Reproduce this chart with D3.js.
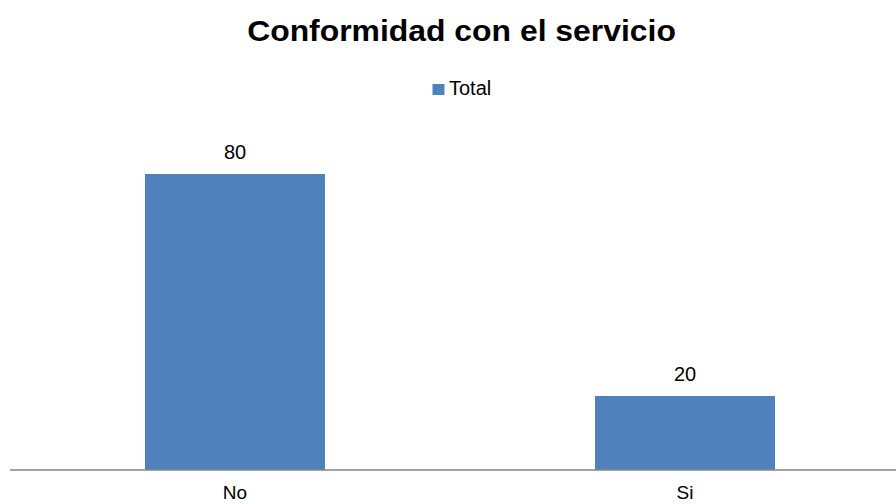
<!DOCTYPE html>
<html>
<head>
<meta charset="utf-8">
<script src="https://cdn.jsdelivr.net/npm/d3@7"></script>
<style>
  html, body { margin: 0; padding: 0; background: #fff; }
  svg { display: block; font-family: Arial, "Liberation Sans", sans-serif; }
</style>
</head>
<body>
<svg id="chart" width="896" height="504"></svg>
<script>
// Survey answers: is the respondent satisfied with the service?
const categories = ["No", "Si"];
const totals = [80, 20];
const seriesName = "Total";
const chartTitle = "Conformidad con el servicio";

const W = 896, H = 504;
const barColor = "#4F81BD";
const svg = d3.select("#chart");

const x = d3.scaleBand().domain(categories).range([10, 910]).padding(0);
const y = d3.scaleLinear().domain([0, 80]).range([470, 174]);

const bw = x.bandwidth() * 0.4;
const off = x.bandwidth() * 0.3;

// Title (slightly widened, as the chart's bold heading)
svg.append("text")
  .attr("transform", "translate(461.5,41) scale(1.1,1)")
  .attr("text-anchor", "middle")
  .attr("font-size", 29).attr("font-weight", "bold")
  .attr("fill", "#000")
  .text(chartTitle);

// Legend
const lg = svg.append("g");
lg.append("rect").attr("x", 432.5).attr("y", 84).attr("width", 12).attr("height", 11).attr("fill", barColor);
lg.append("text").attr("x", 449).attr("y", 95).attr("font-size", 20).attr("fill", "#000").text(seriesName);

// Bars
const data = categories.map((c, i) => ({ c, v: totals[i] }));
svg.selectAll("rect.bar").data(data).join("rect")
  .attr("class", "bar")
  .attr("x", d => x(d.c) + off)
  .attr("width", bw)
  .attr("y", d => y(d.v))
  .attr("height", d => y(0) - y(d.v))
  .attr("fill", barColor);

// Value labels
svg.selectAll("text.val").data(data).join("text")
  .attr("class", "val")
  .attr("x", d => x(d.c) + x.bandwidth() / 2)
  .attr("y", d => y(d.v) - 15)
  .attr("text-anchor", "middle")
  .attr("font-size", 20).attr("fill", "#000")
  .text(d => d.v);

// Category axis
svg.append("line")
  .attr("x1", 10).attr("x2", W)
  .attr("y1", y(0)).attr("y2", y(0))
  .attr("stroke", "#868686").attr("stroke-width", 1.5);

svg.selectAll("text.cat").data(categories).join("text")
  .attr("class", "cat")
  .attr("x", d => x(d) + x.bandwidth() / 2)
  .attr("y", 499)
  .attr("text-anchor", "middle")
  .attr("font-size", 19).attr("fill", "#000")
  .text(d => d);
</script>
</body>
</html>
